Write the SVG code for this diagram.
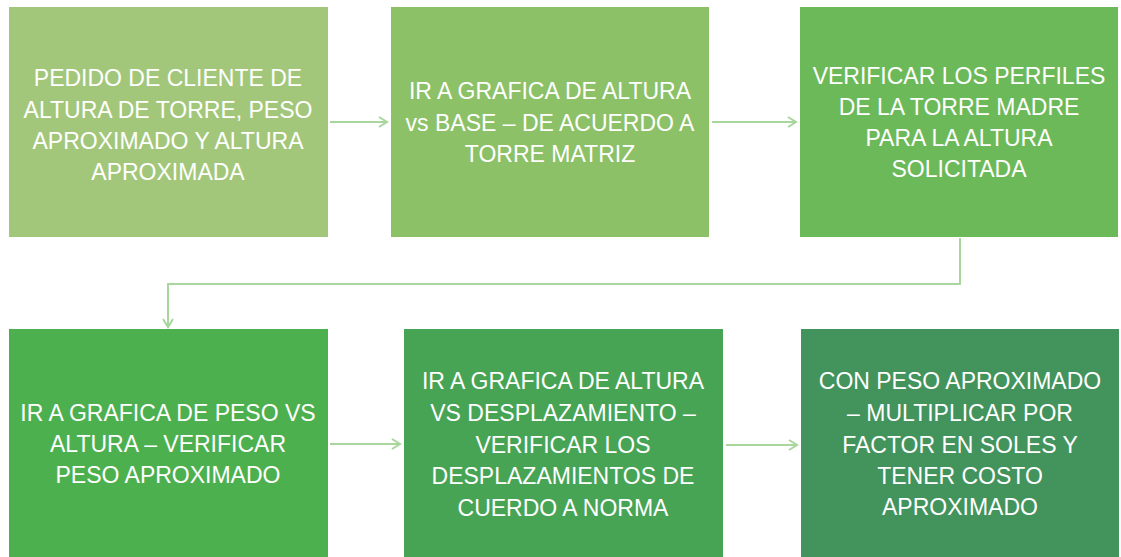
<svg xmlns="http://www.w3.org/2000/svg" width="1121" height="557" viewBox="0 0 1121 557">
<defs>
<style>
.t{font-family:"Liberation Sans",Arial,sans-serif;font-size:23px;fill:#ffffff;text-anchor:middle;}
.c{fill:none;stroke:#a8d69c;stroke-width:2;}
</style>
<marker id="ah" markerWidth="12" markerHeight="12" refX="10" refY="6" orient="auto" markerUnits="userSpaceOnUse">
<path d="M2,1 L10,6 L2,11" fill="none" stroke="#a8d69c" stroke-width="2"/>
</marker>
</defs>
<rect width="1121" height="557" fill="#ffffff"/>
<g id="connectors">
<line class="c" x1="330" y1="122" x2="387" y2="122" marker-end="url(#ah)"/>
<line class="c" x1="712" y1="122" x2="796" y2="122" marker-end="url(#ah)"/>
<polyline class="c" points="960,238 960,284 168,284 168,327" marker-end="url(#ah)"/>
<line class="c" x1="330" y1="444" x2="400" y2="444" marker-end="url(#ah)"/>
<line class="c" x1="726" y1="445" x2="797" y2="445" marker-end="url(#ah)"/>
</g>
<g id="n1">
<rect x="9" y="7" width="319" height="230" fill="#a3c77a"/>
<text class="t" x="168" y="86">PEDIDO DE CLIENTE DE</text>
<text class="t" x="168" y="118">ALTURA DE TORRE, PESO</text>
<text class="t" x="168" y="149">APROXIMADO Y ALTURA</text>
<text class="t" x="168" y="180">APROXIMADA</text>
</g>
<g id="n2">
<rect x="391" y="7" width="318" height="230" fill="#8cc168"/>
<text class="t" x="550" y="99">IR A GRAFICA DE ALTURA</text>
<text class="t" x="550" y="131">vs BASE – DE ACUERDO A</text>
<text class="t" x="550" y="162">TORRE MATRIZ</text>
</g>
<g id="n3">
<rect x="800" y="7" width="318" height="230" fill="#6cb95a"/>
<text class="t" x="959" y="84">VERIFICAR LOS PERFILES</text>
<text class="t" x="959" y="115">DE LA TORRE MADRE</text>
<text class="t" x="959" y="146">PARA LA ALTURA</text>
<text class="t" x="959" y="177">SOLICITADA</text>
</g>
<g id="n4">
<rect x="9" y="329" width="319" height="228" fill="#4db04e"/>
<text class="t" x="168" y="421">IR A GRAFICA DE PESO VS</text>
<text class="t" x="168" y="452">ALTURA – VERIFICAR</text>
<text class="t" x="168" y="483">PESO APROXIMADO</text>
</g>
<g id="n5">
<rect x="404" y="329" width="319" height="228" fill="#47a455"/>
<text class="t" x="563" y="389">IR A GRAFICA DE ALTURA</text>
<text class="t" x="563" y="421">VS DESPLAZAMIENTO –</text>
<text class="t" x="563" y="453">VERIFICAR LOS</text>
<text class="t" x="563" y="484">DESPLAZAMIENTOS DE</text>
<text class="t" x="563" y="516">CUERDO A NORMA</text>
</g>
<g id="n6">
<rect x="801" y="329" width="318" height="228" fill="#42935c"/>
<text class="t" x="960" y="389">CON PESO APROXIMADO</text>
<text class="t" x="960" y="421">– MULTIPLICAR POR</text>
<text class="t" x="960" y="453">FACTOR EN SOLES Y</text>
<text class="t" x="960" y="484">TENER COSTO</text>
<text class="t" x="960" y="515">APROXIMADO</text>
</g>
</svg>
